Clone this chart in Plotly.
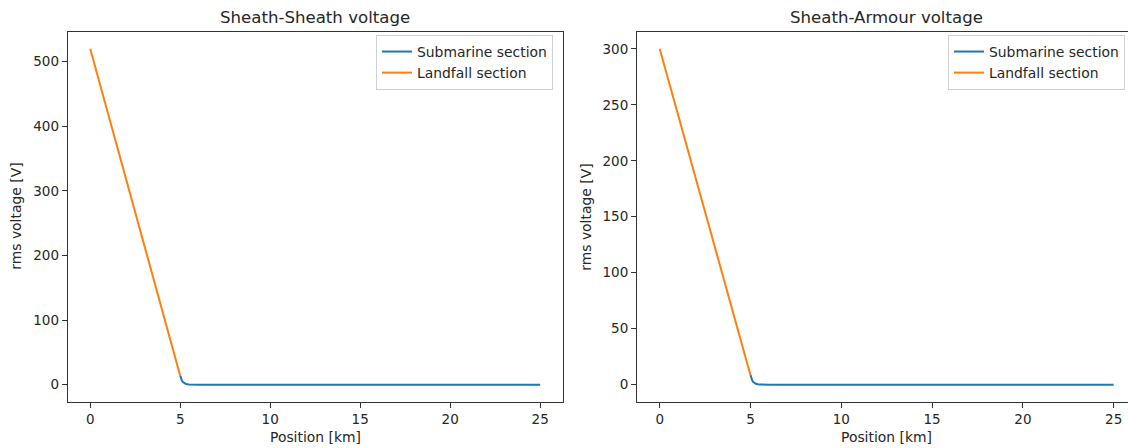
import plotly.graph_objects as go

W, H = 1128, 448

# ---- data ----
land_x = [0.0, 5.0]
ss_land_y = [520.0, 14.0]
sa_land_y = [300.0, 8.5]

sub_x = [5.0, 5.05, 5.1, 5.15, 5.2, 5.3, 5.4, 5.5, 6.0, 25.0]
ss_sub_y = [14.0, 9.0, 6.0, 4.0, 2.8, 1.4, 0.7, 0.4, 0.1, 0.0]
sa_sub_y = [8.5, 5.5, 3.6, 2.4, 1.7, 0.85, 0.4, 0.2, 0.05, 0.0]

x_ticks = [0, 5, 10, 15, 20, 25]
ss_y_ticks = [0, 100, 200, 300, 400, 500]
sa_y_ticks = [0, 50, 100, 150, 200, 250, 300]

titles = ["Sheath-Sheath voltage", "Sheath-Armour voltage"]
x_title = "Position [km]"
y_title = "rms voltage [V]"
names = ["Submarine section", "Landfall section"]

BLUE = "#1f77b4"
ORANGE = "#ff7f0e"
FONT = "DejaVu Sans"
TXT = "#262626"
AX = "#333333"

def px(x):
    return x / W

def py(y):
    return 1 - y / H

# pixel geometry
L1, R1 = 67.7, 562.7
L2, R2 = 637.0, 1128.0
TOP, BOT = 32.0, 401.5

fig = go.Figure()

fig.add_trace(go.Scatter(x=sub_x, y=ss_sub_y, mode="lines", name=names[0],
                         line=dict(color=BLUE, width=2), xaxis="x", yaxis="y", legend="legend"))
fig.add_trace(go.Scatter(x=land_x, y=ss_land_y, mode="lines", name=names[1],
                         line=dict(color=ORANGE, width=2), xaxis="x", yaxis="y", legend="legend"))
fig.add_trace(go.Scatter(x=sub_x, y=sa_sub_y, mode="lines", name=names[0],
                         line=dict(color=BLUE, width=2), xaxis="x2", yaxis="y2", legend="legend2"))
fig.add_trace(go.Scatter(x=land_x, y=sa_land_y, mode="lines", name=names[1],
                         line=dict(color=ORANGE, width=2), xaxis="x2", yaxis="y2", legend="legend2"))

axis_common = dict(showgrid=False, zeroline=False, showline=True, linecolor=AX, linewidth=1,
                   ticks="outside", ticklen=5, tickwidth=1, tickcolor=AX,
                   tickfont=dict(family=FONT, size=13.5, color=TXT))

# right plot x range extends beyond the canvas edge (figure cut off)
px_per_unit2 = 18.16
x2_right = -1.25 + (R2 - L2) / px_per_unit2

fig.update_layout(
    width=W, height=H,
    margin=dict(l=0, r=0, t=0, b=0),
    paper_bgcolor="white", plot_bgcolor="white",
    font=dict(family=FONT, size=14, color=TXT),
    xaxis=dict(domain=[px(L1), px(R1)], range=[-1.25, 26.25], tickvals=x_ticks,
               mirror=True, anchor="y", **axis_common),
    yaxis=dict(domain=[py(BOT), py(TOP)], range=[-26, 546], tickvals=ss_y_ticks,
               mirror=True, anchor="x", **axis_common),
    xaxis2=dict(domain=[px(L2), 1.0], range=[-1.25, x2_right], tickvals=x_ticks,
                mirror=True, anchor="y2", **axis_common),
    yaxis2=dict(domain=[py(BOT), py(TOP)], range=[-15, 315], tickvals=sa_y_ticks,
                mirror=False, anchor="x2", **axis_common),
    legend=dict(x=px(376), y=py(35), xanchor="left", yanchor="top",
                bgcolor="rgba(255,255,255,0.8)", bordercolor="#d0d0d0", borderwidth=1,
                font=dict(family=FONT, size=13.9, color=TXT), tracegroupgap=0),
    legend2=dict(x=px(948), y=py(35), xanchor="left", yanchor="top",
                 bgcolor="rgba(255,255,255,0.8)", bordercolor="#d0d0d0", borderwidth=1,
                 font=dict(family=FONT, size=13.9, color=TXT), tracegroupgap=0),
    showlegend=True,
)

annotations = []
centers = [(L1 + R1) / 2, (L2 + 1136) / 2]
for c, t in zip(centers, titles):
    annotations.append(dict(text=t, x=px(c), y=py(17), xref="paper", yref="paper",
                            xanchor="center", yanchor="middle", showarrow=False,
                            font=dict(family=FONT, size=16.6, color=TXT)))
    annotations.append(dict(text=x_title, x=px(c), y=py(437), xref="paper", yref="paper",
                            xanchor="center", yanchor="middle", showarrow=False,
                            font=dict(family=FONT, size=13.9, color=TXT)))
for xc in [16, 586]:
    annotations.append(dict(text=y_title, x=px(xc), y=py((TOP + BOT) / 2), xref="paper", yref="paper",
                            xanchor="center", yanchor="middle", showarrow=False, textangle=-90,
                            font=dict(family=FONT, size=13.9, color=TXT)))
fig.update_layout(annotations=annotations)

fig.write_html("out.html")
